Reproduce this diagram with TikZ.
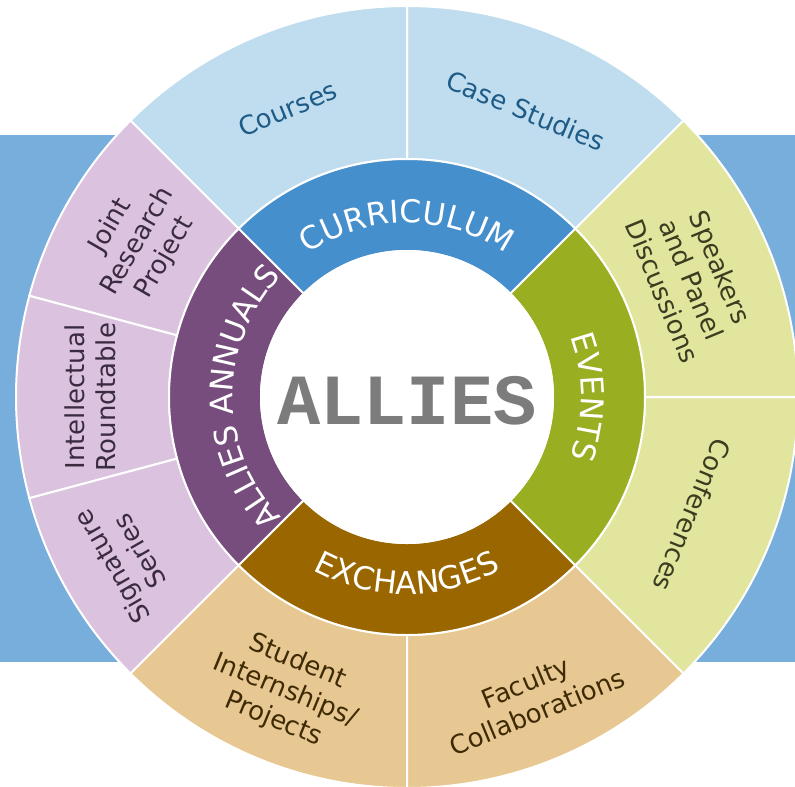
\documentclass[tikz,border=0pt]{standalone}
\usepackage{fontspec}
\usetikzlibrary{decorations.text}
\newfontfamily\labfont{DejaVu Sans}
\newfontfamily\alliesfont{Liberation Mono}
\definecolor{bgblue}{HTML}{78AEDB}
\definecolor{curDark}{HTML}{468FCD}
\definecolor{curLight}{HTML}{BFDDEE}
\definecolor{curText}{HTML}{1E5B87}
\definecolor{evDark}{HTML}{9AAE22}
\definecolor{evLight}{HTML}{E2E59E}
\definecolor{evText}{HTML}{3C3C20}
\definecolor{exDark}{HTML}{996600}
\definecolor{exLight}{HTML}{E8C892}
\definecolor{exText}{HTML}{3E2B05}
\definecolor{anDark}{HTML}{764D7D}
\definecolor{anLight}{HTML}{DBC3E0}
\definecolor{anText}{HTML}{3A2B40}
\definecolor{alliesGray}{HTML}{7C7C7C}
\newcommand{\ringfont}{\labfont\fontsize{23.6}{28}\selectfont}
\newcommand{\sector}[5]{%
  \filldraw[fill=#5, sectorline] (#1:#3) -- (#1:#4) arc[start angle=#1, end angle=#2, radius=#4]
    -- (#2:#3) arc[start angle=#2, end angle=#1, radius=#3] -- cycle;}
\begin{document}
\begin{tikzpicture}[x=0.75pt,y=0.75pt,
  sectorline/.style={draw=white, line width=1.5pt},
  outlab/.style={font=\labfont\fontsize{19.5}{23.5}\selectfont, align=center, inner sep=0pt},
  ringdeco/.style={decorate, decoration={text along path, text align=center, text color=white, text={|\ringfont|#1}}}]
\clip (-407,-389) rectangle (388,397);
\fill[bgblue] (-407,-265) rectangle (388,262);
% outer ring
\sector{45}{90}{238}{391}{curLight}
\sector{90}{135}{238}{391}{curLight}
\sector{135}{165}{238}{391}{anLight}
\sector{165}{195}{238}{391}{anLight}
\sector{195}{225}{238}{391}{anLight}
\sector{225}{270}{238}{391}{exLight}
\sector{270}{315}{238}{391}{exLight}
\sector{315}{360}{238}{391}{evLight}
\sector{0}{45}{238}{391}{evLight}
% inner ring
\sector{45}{135}{146}{238}{curDark}
\sector{135}{225}{146}{238}{anDark}
\sector{225}{315}{146}{238}{exDark}
\sector{-45}{45}{146}{238}{evDark}
\filldraw[fill=white, sectorline] (0,0) circle[radius=146];
% ring labels
\path[ringdeco={CURRICULUM}] (150:174) arc[start angle=150, end angle=30, radius=174];
\path[ringdeco={ALLIES ANNUALS}] (240:174) arc[start angle=240, end angle=120, radius=174];
\path[ringdeco={EVENTS}] (60:174) arc[start angle=60, end angle=-60, radius=174];
\path[ringdeco={EXCHANGES}] (210:197) arc[start angle=210, end angle=330, radius=197];
% centre
\node[font=\alliesfont\bfseries\fontsize{54}{60}\selectfont, text=alliesGray, inner sep=0pt] (allies) at (0,-4) {ALLIES};
% outer labels
\node[outlab, text=curText, rotate=22.5] (courses) at (112.5:312) {Courses};
\node[outlab, text=curText, rotate=-22.5] (cases) at (67.5:310) {Case Studies};
\node[outlab, text=evText, rotate=-67.5] (speakers) at (22.5:308) {Speakers\\and Panel\\Discussions};
\node[outlab, text=evText, rotate=-112.5] (conf) at (-22.5:309) {Conferences};
\node[outlab, text=exText, rotate=22.5] (faculty) at (-67.5:325) {Faculty\\Collaborations};
\node[outlab, text=exText, rotate=-22.5] (student) at (-112.5:318) {Student\\Internships/\\Projects};
\node[outlab, text=anText, rotate=120] (signature) at (210:325) {Signature\\Series};
\node[outlab, text=anText, rotate=90] (intel) at (180:317) {Intellectual\\Roundtable};
\node[outlab, text=anText, rotate=60] (joint) at (150:311) {Joint\\Research\\Project};
\end{tikzpicture}
\end{document}
